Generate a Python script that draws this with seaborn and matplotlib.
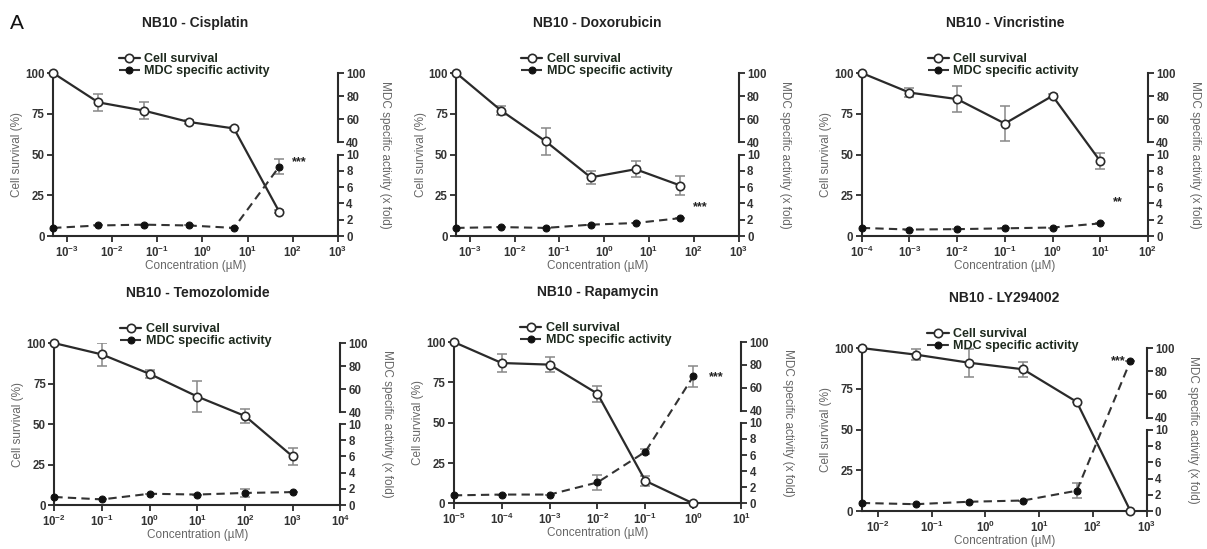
import numpy as np
import pandas as pd
import matplotlib
matplotlib.use("Agg")
import matplotlib.pyplot as plt
from matplotlib.ticker import LogFormatterMathtext, NullLocator
import seaborn as sns

# ---- data ----
titles = ["NB10 - Cisplatin", "NB10 - Doxorubicin", "NB10 - Vincristine",
          "NB10 - Temozolomide", "NB10 - Rapamycin", "NB10 - LY294002"]

conc_cis = [5e-4, 5e-3, 5e-2, 5e-1, 5, 50]
surv_cis = [100, 82, 77, 70, 66, 15]
surv_err_cis = [0, 5, 5, 1, 1, 1]
mdc_cis = [1.0, 1.3, 1.4, 1.3, 1.0, 8.5]
mdc_err_cis = [0, 0, 0, 0, 0, 0.9]

conc_dox = [5e-4, 5e-3, 5e-2, 5e-1, 5, 50]
surv_dox = [100, 77, 58, 36, 41, 31]
surv_err_dox = [0, 3, 8, 4, 5, 6]
mdc_dox = [1.0, 1.1, 1.0, 1.4, 1.6, 2.2]
mdc_err_dox = [0, 0, 0, 0, 0, 0]

conc_vin = [1e-4, 1e-3, 1e-2, 1e-1, 1, 10]
surv_vin = [100, 88, 84, 69, 86, 46]
surv_err_vin = [0, 3, 8, 10.5, 1, 5]
mdc_vin = [1.0, 0.8, 0.85, 0.95, 1.05, 1.55]
mdc_err_vin = [0, 0, 0, 0, 0, 0]

conc_tem = [1e-2, 1e-1, 1, 10, 100, 1000]
surv_tem = [100, 93, 81, 67, 55, 30]
surv_err_tem = [0, 7, 2.5, 9.5, 4.5, 5.5]
mdc_tem = [1.0, 0.7, 1.4, 1.3, 1.5, 1.6]
mdc_err_tem = [0, 0, 0, 0, 0.5, 0]

conc_rap = [1e-5, 1e-4, 1e-3, 1e-2, 1e-1, 1]
surv_rap = [100, 87, 86, 68, 14, 0]
surv_err_rap = [0, 5.5, 4.5, 5, 3, 0]
mdc_rap = [1.0, 1.1, 1.1, 2.6, 6.4, 70]
mdc_err_rap = [0, 0, 0, 0.9, 0.3, 9]

conc_ly = [5e-3, 5e-2, 5e-1, 5, 50, 500]
surv_ly = [100, 96, 91, 87, 67, 0]
surv_err_ly = [0, 3.5, 8.5, 4.5, 0, 0]
mdc_ly = [1.0, 0.85, 1.15, 1.3, 2.5, 89]
mdc_err_ly = [0, 0, 0, 0, 0.9, 0]

xlims = [(5e-4, 1e3), (5e-4, 1e3), (1e-4, 1e2), (1e-2, 1e4), (1e-5, 1e1), (5e-3, 1e3)]
xdecades = [(-3, 3), (-3, 3), (-4, 2), (-2, 4), (-5, 1), (-2, 3)]
stars = [("***", 140, 9.1), ("***", 140, 3.6), ("**", 23, 4.2),
         None, ("***", 3.0, 69), ("***", 290, 89)]

# axes rectangles (figure fraction)
rects = [(0.044, 0.570, 0.236, 0.297), (0.378, 0.570, 0.234, 0.297),
         (0.714, 0.570, 0.237, 0.297), (0.045, 0.080, 0.237, 0.295),
         (0.376, 0.083, 0.238, 0.294), (0.714, 0.069, 0.236, 0.297)]

# ---- broken right axis: 0-10 on lower half, 40-100 on upper part ----
BRK_LO, BRK_HI = 50.0, 57.4


def fwd(v):
    v = np.asarray(v, float)
    return np.where(v <= 10, v * 5.0,
                    np.where(v >= 40, BRK_HI + (v - 40) * (100 - BRK_HI) / 60.0,
                             BRK_LO + (v - 10) * (BRK_HI - BRK_LO) / 30.0))


def inv(u):
    u = np.asarray(u, float)
    return np.where(u <= BRK_LO, u / 5.0,
                    np.where(u >= BRK_HI, 40 + (u - BRK_HI) * 60.0 / (100 - BRK_HI),
                             10 + (u - BRK_LO) * 30.0 / (BRK_HI - BRK_LO)))


sns.set_theme(style="ticks")
plt.rcParams['font.family'] = ['Liberation Sans', 'DejaVu Sans']
plt.rcParams['mathtext.fontset'] = 'custom'
plt.rcParams['mathtext.bf'] = 'Liberation Sans:bold'
plt.rcParams['mathtext.rm'] = 'Liberation Sans:bold'
plt.rcParams['mathtext.default'] = 'bf'

DARK = '#2a2a2a'
TICKC = '#333333'
LABC = '#666666'


def style_ticks(a, axis):
    a.tick_params(axis=axis, direction='out', length=4, width=1.3,
                  color=DARK, labelsize=8.3, labelcolor=TICKC, pad=2)
    lbls = a.get_yticklabels() if axis == 'y' else a.get_xticklabels()
    for t in lbls:
        t.set_fontweight('bold')


def draw_panel(rect, title, conc, surv, surv_err, mdc, mdc_err, xlim, decs, star):
    ax = fig.add_axes(rect)
    df = pd.DataFrame({'conc': conc, 'surv': surv, 'mdc': mdc})

    ax.set_xscale('log')
    ax.errorbar(conc, surv, yerr=surv_err, fmt='none', ecolor='#888888',
                elinewidth=1.1, capsize=3.5, capthick=1.1, zorder=2)
    sns.lineplot(data=df, x='conc', y='surv', ax=ax, color=DARK, lw=1.6,
                 marker='o', markersize=6, markerfacecolor='white',
                 markeredgecolor=DARK, markeredgewidth=1.2, clip_on=False,
                 label='Cell survival', legend=False, zorder=3)
    h_surv = ax.lines[-1]
    ax.set_xlim(*xlim)
    ax.set_ylim(0, 100)
    ax.set_yticks([0, 25, 50, 75, 100])
    ax.set_xticks([10.0 ** k for k in range(decs[0], decs[1] + 1)])
    ax.xaxis.set_major_formatter(LogFormatterMathtext())
    ax.xaxis.set_minor_locator(NullLocator())
    ax.spines[['top', 'right']].set_visible(False)
    for s in ['left', 'bottom']:
        ax.spines[s].set_linewidth(1.5)
        ax.spines[s].set_color(DARK)
    ax.set_ylabel('Cell survival (%)', color=LABC, fontsize=8.5)
    ax.yaxis.set_label_coords(-0.105, 0.5)
    ax.set_xlabel('Concentration (µM)', color=LABC, fontsize=8.5, labelpad=0)
    style_ticks(ax, 'x')
    style_ticks(ax, 'y')
    ax.set_title(title, pad=33, fontsize=10, fontweight='bold', color='#222222')

    # lower part of right axis (0-10) carries the MDC data
    ax2 = ax.twinx()
    ax2.set_yscale('function', functions=(fwd, inv))
    ax2.set_ylim(0, 100)
    ax2.errorbar(conc, mdc, yerr=mdc_err, fmt='none', ecolor='#888888',
                 elinewidth=1.1, capsize=3.5, capthick=1.1, zorder=2)
    sns.lineplot(data=df, x='conc', y='mdc', ax=ax2, color='#333333', lw=1.5,
                 linestyle=(0, (4, 2.5)), marker='o', markersize=5,
                 markerfacecolor='#111111', markeredgecolor='#111111',
                 clip_on=False, label='MDC specific activity', legend=False, zorder=3)
    h_mdc = ax2.lines[-1]
    ax2.set_xlim(*xlim)
    ax2.set_ylabel('')
    ax2.set_yticks([0, 2, 4, 6, 8, 10])
    ax2.yaxis.set_minor_locator(NullLocator())
    ax2.spines[['top', 'left', 'bottom']].set_visible(False)
    ax2.spines['right'].set_bounds(0, 10)
    ax2.spines['right'].set_linewidth(1.5)
    ax2.spines['right'].set_color(DARK)
    style_ticks(ax2, 'y')

    # upper part of right axis (40-100)
    ax3 = ax.twinx()
    ax3.set_yscale('function', functions=(fwd, inv))
    ax3.set_ylim(0, 100)
    ax3.set_yticks([40, 60, 80, 100])
    ax3.yaxis.set_minor_locator(NullLocator())
    ax3.spines[['top', 'left', 'bottom']].set_visible(False)
    ax3.spines['right'].set_bounds(40, 100)
    ax3.spines['right'].set_linewidth(1.5)
    ax3.spines['right'].set_color(DARK)
    style_ticks(ax3, 'y')
    ax3.set_ylabel('MDC specific activity (x fold)', color=LABC, fontsize=8.5,
                   rotation=270)
    ax3.yaxis.set_label_coords(1.185, 0.5)

    if star is not None:
        ax2.text(star[1], star[2], star[0], ha='center', va='center',
                 fontsize=9, fontweight='bold', color='#222222')

    leg = ax3.legend([h_surv, h_mdc], ['Cell survival', 'MDC specific activity'],
                     loc='lower left', bbox_to_anchor=(0.23, 0.975), frameon=False,
                     handlelength=1.7, handletextpad=0.35, labelspacing=0.0,
                     borderaxespad=0, borderpad=0,
                     prop={'weight': 'bold', 'size': 9})
    for t in leg.get_texts():
        t.set_color('#1e2a1e')


fig = plt.figure(figsize=(12.07, 5.49), dpi=100)

panels = [
    (conc_cis, surv_cis, surv_err_cis, mdc_cis, mdc_err_cis),
    (conc_dox, surv_dox, surv_err_dox, mdc_dox, mdc_err_dox),
    (conc_vin, surv_vin, surv_err_vin, mdc_vin, mdc_err_vin),
    (conc_tem, surv_tem, surv_err_tem, mdc_tem, mdc_err_tem),
    (conc_rap, surv_rap, surv_err_rap, mdc_rap, mdc_err_rap),
    (conc_ly, surv_ly, surv_err_ly, mdc_ly, mdc_err_ly),
]
for i, p in enumerate(panels):
    draw_panel(rects[i], titles[i], *p, xlims[i], xdecades[i], stars[i])

fig.text(0.008, 0.975, 'A', fontsize=15, va='top', ha='left', color='#111111')

fig.savefig('out.png', dpi=100)
